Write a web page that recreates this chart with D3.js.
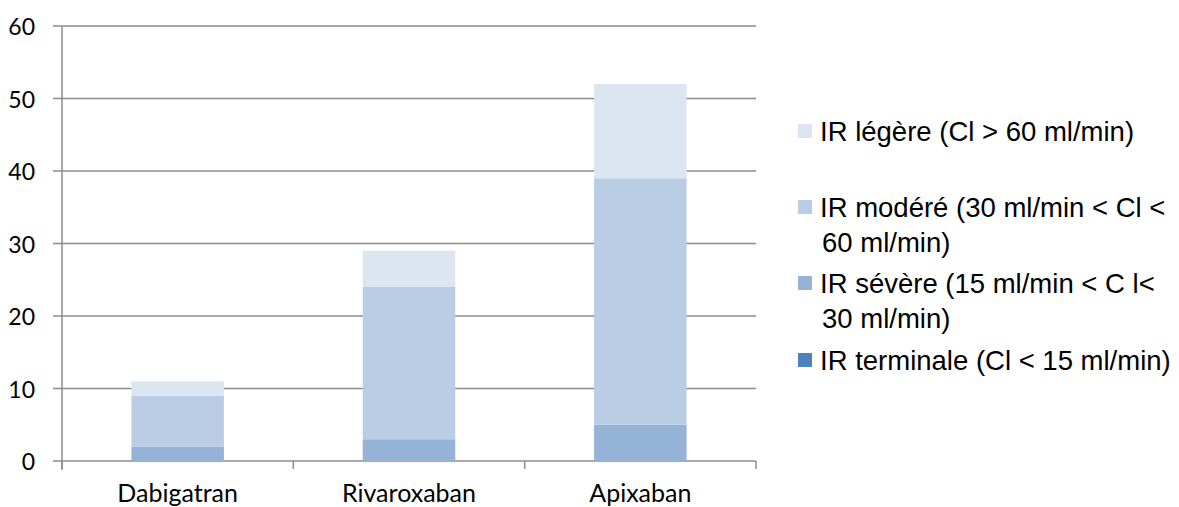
<!DOCTYPE html>
<html>
<head>
<meta charset="utf-8">
<script src="https://cdn.jsdelivr.net/npm/d3@7"></script>
<style>
  body { margin: 0; background: #fff; }
  svg { display: block; }
</style>
</head>
<body>
<svg id="chart" width="1179" height="507"></svg>
<script>
// Data
var categories = ['Dabigatran', 'Rivaroxaban', 'Apixaban'];
var terminale = [0, 0, 0];
var severe = [2, 3, 5];
var modere = [7, 21, 34];
var legere = [2, 5, 13];
var yTicks = [0, 10, 20, 30, 40, 50, 60];

// legend lines, top to bottom (wrapped like the original)
var legendLines = [
    ['IR légère (Cl > 60 ml/min)'],
    ['IR modéré (30 ml/min < Cl <', '60 ml/min)'],
    ['IR sévère (15 ml/min < C l<', '30 ml/min)'],
    ['IR terminale (Cl < 15 ml/min)']
];
var colors = ['#4F81BD', '#95B3D7', '#B9CDE5', '#DCE6F1'];

var svg = d3.select('#chart');
var margin = { left: 62, top: 26, right: 756, bottom: 461 };

var x = d3.scaleBand()
    .domain(categories)
    .range([margin.left, margin.right])
    .paddingInner(0.6)
    .paddingOuter(0.3);

var y = d3.scaleLinear()
    .domain([0, 60])
    .range([margin.bottom, margin.top]);

// gridlines
svg.append('g')
    .selectAll('line')
    .data(yTicks)
    .enter()
    .append('line')
    .attr('x1', margin.left - 9)
    .attr('x2', margin.right)
    .attr('y1', function (d) { return y(d); })
    .attr('y2', function (d) { return y(d); })
    .style('stroke', '#8c8c8c')
    .style('stroke-width', 1.5);

// stack the series
var rows = categories.map(function (c, i) {
    return { cat: c, s0: terminale[i], s1: severe[i], s2: modere[i], s3: legere[i] };
});
var stack = d3.stack().keys(['s0', 's1', 's2', 's3']);
var layers = stack(rows);

svg.append('g')
    .selectAll('g')
    .data(layers)
    .enter()
    .append('g')
    .style('fill', function (d, i) { return colors[i]; })
    .selectAll('rect')
    .data(function (d) { return d; })
    .enter()
    .append('rect')
    .attr('x', function (d) { return x(d.data.cat); })
    .attr('width', x.bandwidth())
    .attr('y', function (d) { return y(d[1]); })
    .attr('height', function (d) { return y(d[0]) - y(d[1]); });

// y axis line
svg.append('line')
    .attr('x1', margin.left).attr('x2', margin.left)
    .attr('y1', margin.top).attr('y2', margin.bottom + 9)
    .style('stroke', '#8c8c8c').style('stroke-width', 1.5);

// x axis tick marks at the category boundaries
var step = (margin.right - margin.left) / categories.length;
svg.append('g')
    .selectAll('line')
    .data(d3.range(categories.length + 1))
    .enter()
    .append('line')
    .attr('x1', function (d) { return margin.left + d * step; })
    .attr('x2', function (d) { return margin.left + d * step; })
    .attr('y1', margin.bottom)
    .attr('y2', margin.bottom + 8)
    .style('stroke', '#8c8c8c').style('stroke-width', 1.5);

// y tick labels
svg.append('g')
    .selectAll('text')
    .data(yTicks)
    .enter()
    .append('text')
    .attr('x', 35)
    .attr('y', function (d) { return y(d) + 1; })
    .attr('dy', '0.35em')
    .attr('text-anchor', 'end')
    .style('font-family', 'Lato, sans-serif')
    .style('font-size', '23px')
    .text(function (d) { return d; });

// category labels
svg.append('g')
    .selectAll('text')
    .data(categories)
    .enter()
    .append('text')
    .attr('x', function (d) { return x(d) + x.bandwidth() / 2; })
    .attr('y', 502)
    .attr('text-anchor', 'middle')
    .style('font-family', 'Lato, sans-serif')
    .style('font-size', '25px')
    .text(function (d) { return d; });

// legend
var legendY = [131, 207, 283, 360];
var legend = svg.append('g');
legendLines.forEach(function (lines, i) {
    legend.append('rect')
        .attr('x', 798)
        .attr('y', legendY[i] - 7)
        .attr('width', 14)
        .attr('height', 14)
        .style('fill', colors[3 - i]);
    var t = legend.append('text')
        .attr('y', legendY[i])
        .style('font-family', '"Liberation Sans", Arial, sans-serif')
        .style('font-size', '27.5px');
    lines.forEach(function (line, j) {
        t.append('tspan')
            .attr('x', j === 0 ? 820 : 822)
            .attr('dy', j === 0 ? '0.35em' : 35)
            .text(line);
    });
});
</script>
</body>
</html>
